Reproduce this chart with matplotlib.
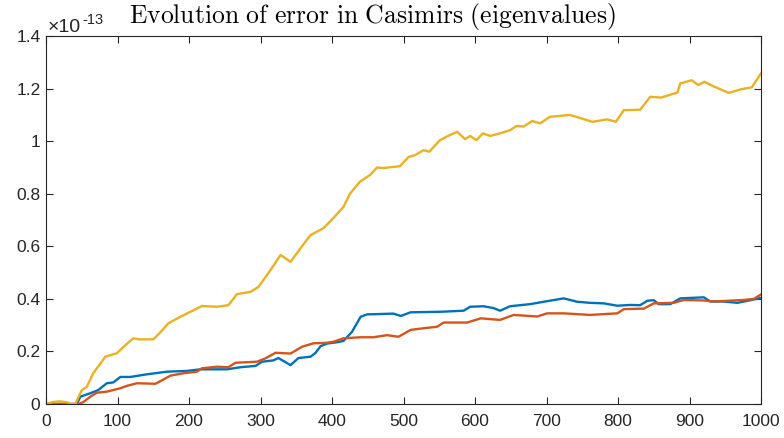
import matplotlib
matplotlib.use('Agg')
import matplotlib.pyplot as plt

# values are in units of 1e-13
blue_x = [0, 43, 48, 62, 73, 85, 94, 104, 118, 141, 169, 197, 216, 253, 272, 293, 302, 318, 325,
          342, 353, 370, 377, 384, 393, 407, 416, 428, 440, 449, 486, 496, 510, 552, 584, 593,
          612, 626, 635, 649, 677, 696, 724, 743, 761, 780, 799, 817, 831, 841, 850, 857, 873,
          887, 920, 929, 948, 967, 985, 1000]
blue_y = [0, 0, 0.028, 0.041, 0.053, 0.079, 0.082, 0.103, 0.103, 0.113, 0.123, 0.126, 0.132,
          0.132, 0.140, 0.145, 0.161, 0.166, 0.175, 0.148, 0.175, 0.180, 0.195, 0.220, 0.230,
          0.235, 0.240, 0.275, 0.332, 0.341, 0.344, 0.335, 0.349, 0.351, 0.355, 0.370, 0.372,
          0.365, 0.355, 0.372, 0.380, 0.389, 0.402, 0.389, 0.385, 0.383, 0.374, 0.377, 0.376,
          0.393, 0.395, 0.380, 0.380, 0.402, 0.406, 0.390, 0.390, 0.385, 0.395, 0.404]

red_x = [0, 45, 52, 62, 71, 85, 104, 113, 127, 153, 162, 174, 192, 211, 218, 239, 255, 265,
         295, 307, 321, 342, 358, 374, 393, 402, 416, 440, 458, 477, 493, 510, 524, 547, 556,
         589, 608, 626, 635, 654, 687, 701, 724, 761, 799, 808, 836, 850, 878, 892, 920, 934,
         976, 990, 1000]
red_y = [0, 0, 0.007, 0.028, 0.043, 0.047, 0.060, 0.069, 0.079, 0.077, 0.090, 0.108, 0.117,
         0.123, 0.136, 0.142, 0.140, 0.157, 0.161, 0.174, 0.195, 0.192, 0.218, 0.231, 0.233,
         0.237, 0.250, 0.254, 0.254, 0.262, 0.256, 0.282, 0.287, 0.294, 0.310, 0.310, 0.326,
         0.322, 0.320, 0.339, 0.333, 0.345, 0.345, 0.339, 0.345, 0.361, 0.363, 0.383, 0.385,
         0.396, 0.394, 0.390, 0.396, 0.400, 0.417]

yellow_x = [0, 10, 20, 30, 34, 41, 50, 57, 66, 83, 99, 111, 122, 131, 150, 159, 171, 188, 202,
            218, 239, 255, 267, 286, 297, 314, 328, 342, 356, 370, 388, 402, 416, 425, 439,
            453, 463, 472, 495, 507, 516, 528, 536, 551, 560, 575, 586, 593, 602, 611, 621,
            635, 649, 658, 668, 680, 691, 705, 733, 764, 785, 797, 808, 831, 845, 860, 883,
            887, 903, 912, 921, 935, 955, 971, 987, 1000]
yellow_y = [0, 0.008, 0.010, 0.006, 0, 0, 0.053, 0.065, 0.117, 0.180, 0.193, 0.224, 0.250,
            0.246, 0.246, 0.270, 0.307, 0.332, 0.351, 0.373, 0.370, 0.376, 0.418, 0.427,
            0.445, 0.510, 0.567, 0.541, 0.593, 0.643, 0.669, 0.708, 0.750, 0.800, 0.846,
            0.871, 0.900, 0.898, 0.905, 0.940, 0.947, 0.966, 0.960, 1.004, 1.017, 1.036,
            1.008, 1.020, 1.004, 1.030, 1.020, 1.030, 1.042, 1.058, 1.056, 1.077, 1.068,
            1.093, 1.100, 1.074, 1.083, 1.074, 1.118, 1.120, 1.169, 1.166, 1.185, 1.220,
            1.232, 1.214, 1.226, 1.207, 1.184, 1.197, 1.205, 1.258]

x_ticks = [0, 100, 200, 300, 400, 500, 600, 700, 800, 900, 1000]
y_ticks = [0, 0.2, 0.4, 0.6, 0.8, 1.0, 1.2, 1.4]
y_labels = ['0', '0.2', '0.4', '0.6', '0.8', '1', '1.2', '1.4']

plt.rcParams['font.family'] = ['Liberation Sans', 'DejaVu Sans']
plt.rcParams['mathtext.fontset'] = 'cm'

fig = plt.figure(figsize=(7.84, 4.38), dpi=100)
ax = fig.add_axes([0.0587, 0.0776, 0.912, 0.840])

ax.plot(blue_x, blue_y, color='#0072BD', lw=1.7)
ax.plot(red_x, red_y, color='#D95319', lw=1.7)
ax.plot(yellow_x, yellow_y, color='#EDB120', lw=1.7)

ax.set_xlim(0, 1000)
ax.set_ylim(0, 1.4)
ax.set_xticks(x_ticks)
ax.set_yticks(y_ticks)
ax.set_yticklabels(y_labels)

edge = '#262626'
for s in ax.spines.values():
    s.set_color(edge)
    s.set_linewidth(0.8)
ax.tick_params(direction='in', top=True, right=True, length=5, width=0.8,
               colors=edge, labelsize=12.5, pad=4)
ax.tick_params(axis='x', pad=7)

# exponent label, MATLAB style
ax.annotate('\u00d710', xy=(0, 1), xycoords='axes fraction', xytext=(2, 4),
            textcoords='offset pixels', fontsize=14, color=edge,
            ha='left', va='baseline')
ax.annotate('-13', xy=(0, 1), xycoords='axes fraction', xytext=(36, 12),
            textcoords='offset pixels', fontsize=10.5, color=edge,
            ha='left', va='baseline')

fig.text(0.4745, 0.9475, r'$\mathrm{Evolution\ of\ error\ in\ Casimirs\ (eigenvalues)}$',
         fontsize=18.5, color='black', ha='center', va='baseline')

fig.savefig('out.png', dpi=100)
